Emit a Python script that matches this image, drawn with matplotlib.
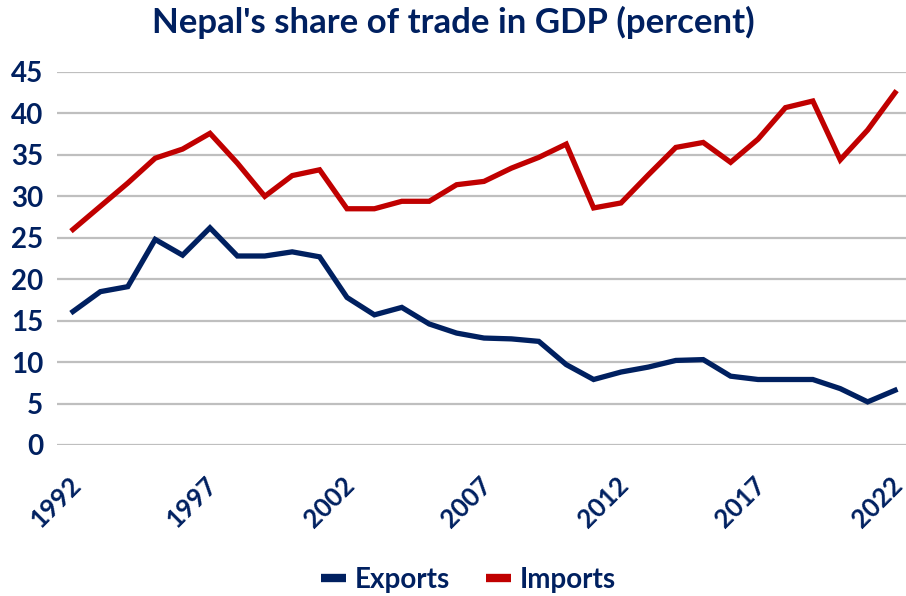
import numpy as np
import matplotlib
matplotlib.use("Agg")
import matplotlib.pyplot as plt
from matplotlib.transforms import ScaledTranslation

# Nepal trade as share of GDP, 1992-2022
years = list(range(1992, 2023))
exports = [16.1, 18.5, 19.1, 24.8, 22.9, 26.2, 22.8, 22.8, 23.3, 22.7,
           17.8, 15.7, 16.6, 14.6, 13.5, 12.9, 12.8, 12.5, 9.7, 7.9,
           8.8, 9.4, 10.2, 10.3, 8.3, 7.9, 7.9, 7.9, 6.8, 5.2, 6.6]
imports = [26.0, 28.8, 31.6, 34.6, 35.7, 37.6, 34.0, 30.0, 32.5, 33.2,
           28.5, 28.5, 29.4, 29.4, 31.4, 31.8, 33.4, 34.7, 36.3, 28.6,
           29.2, 32.6, 35.9, 36.5, 34.1, 36.9, 40.7, 41.5, 34.4, 38.0, 42.5]
xticks = [1992, 1997, 2002, 2007, 2012, 2017, 2022]
yticks = list(range(0, 50, 5))

NAVY = "#002060"
RED = "#C00000"

plt.rcParams["font.family"] = ["Lato", "DejaVu Sans"]
plt.rcParams["font.weight"] = "bold"

fig = plt.figure(figsize=(9.06, 5.96), dpi=100)
ax = fig.add_axes([0.063, 0.2534, 0.937, 0.6258])

ax.plot(years, exports, color=NAVY, lw=3.8, label="Exports", solid_joinstyle="miter", clip_on=False)
ax.plot(years, imports, color=RED, lw=3.8, label="Imports", solid_joinstyle="miter", clip_on=False)

ax.set_xlim(1991.42, 2022.4)
ax.set_ylim(0, 45)
ax.set_yticks(yticks)
ax.set_xticks(xticks)
ax.grid(axis="y", color="#BFBFBF", lw=1.6)
ax.set_axisbelow(True)
for s in ax.spines.values():
    s.set_visible(False)
ax.tick_params(length=0)
ax.tick_params(axis="y", labelsize=20, labelcolor=NAVY, pad=10)
ax.tick_params(axis="x", labelsize=18.5, labelcolor=NAVY, pad=20)
# nudge the rotated year labels a little to the left
shift = ScaledTranslation(-5 / 100, 0, fig.dpi_scale_trans)
for lab in ax.get_xticklabels():
    lab.set_rotation(45)
    lab.set_ha("right")
    lab.set_rotation_mode("anchor")
    lab.set_fontweight("bold")
    lab.set_transform(lab.get_transform() + shift)
for lab in ax.get_yticklabels():
    lab.set_fontweight("bold")

fig.suptitle("Nepal's share of trade in GDP (percent)", x=0.5, y=0.99,
             fontsize=25, fontweight="bold", color=NAVY)

leg = fig.legend(loc="lower center", bbox_to_anchor=(0.517, -0.037), ncol=2,
                 frameon=False, fontsize=20, handlelength=0.9, handletextpad=0.3,
                 columnspacing=1.3)
for t in leg.get_texts():
    t.set_color(NAVY)
for h in leg.get_lines():
    h.set_linewidth(6)
    h.set_solid_capstyle("butt")

fig.savefig("out.png", dpi=100)
